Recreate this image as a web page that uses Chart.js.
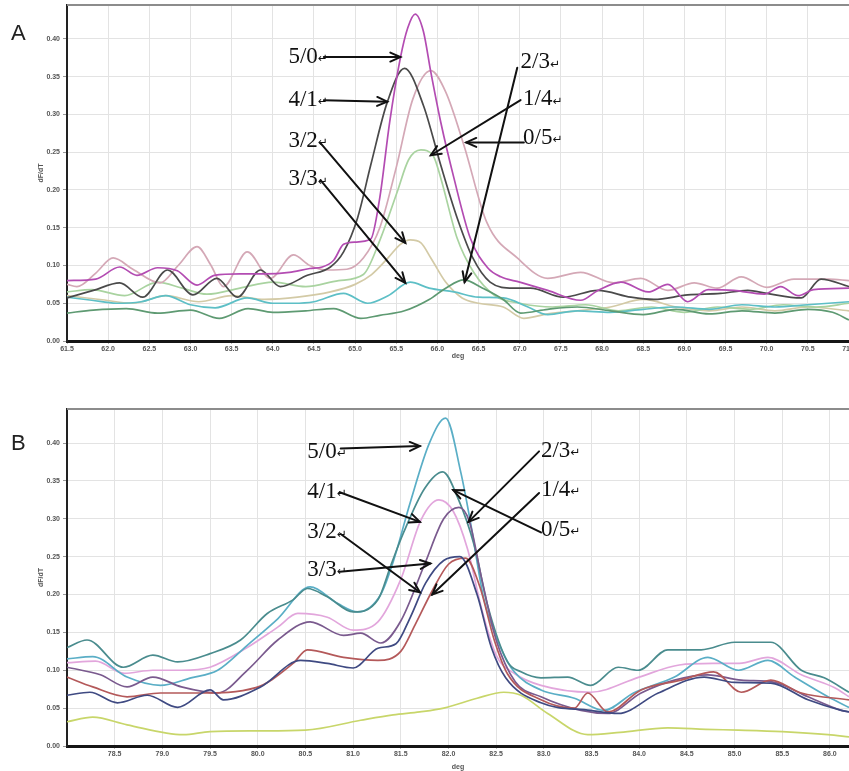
<!DOCTYPE html>
<html><head><meta charset="utf-8">
<script src="https://cdn.jsdelivr.net/npm/chart.js@4.4.0/dist/chart.umd.min.js"></script>
<style>
html,body{margin:0;padding:0;background:#fff;width:849px;height:771px;overflow:hidden}
#wa{position:absolute;left:0;top:0;width:849px;height:375px}
#wb{position:absolute;left:0;top:375px;width:849px;height:396px}
.pl{position:absolute;left:11px;font:22px "Liberation Sans",Arial,sans-serif;color:#222}
</style></head><body>
<div id="wa"><canvas id="ca"></canvas></div>
<div id="wb"><canvas id="cb"></canvas></div>
<div class="pl" style="top:20px">A</div>
<div class="pl" style="top:430px">B</div>
<script>
// ---------- tick labels ----------
const xTicksA = [61.5,62.0,62.5,63.0,63.5,64.0,64.5,65.0,65.5,66.0,66.5,67.0,67.5,68.0,68.5,69.0,69.5,70.0,70.5,71.0];
const xTicksB = [78.5,79.0,79.5,80.0,80.5,81.0,81.5,82.0,82.5,83.0,83.5,84.0,84.5,85.0,85.5,86.0];
const yTicks = [0.00,0.05,0.10,0.15,0.20,0.25,0.30,0.35,0.40];

// ---------- panel A series: [deg, dF/dT] ----------
const a50 = [[61.5,.080],[61.85,.082],[62.14,.098],[62.35,.087],[62.6,.097],[62.84,.093],[63.08,.074],[63.29,.087],[63.6,.089],[63.9,.089],[64.2,.091],[64.45,.096],[64.6,.098],[64.74,.107],[64.86,.128],[65.0,.131],[65.19,.135],[65.3,.19],[65.42,.29],[65.55,.375],[65.64,.415],[65.73,.433],[65.83,.41],[65.92,.356],[66.04,.29],[66.2,.216],[66.4,.136],[66.61,.097],[66.77,.085],[67.0,.078],[67.34,.067],[67.74,.054],[67.95,.067],[68.23,.078],[68.56,.065],[68.8,.075],[69.04,.052],[69.29,.068],[69.6,.067],[69.97,.062],[70.17,.072],[70.38,.060],[70.57,.068],[71.0,.070]];
const a41 = [[61.5,.057],[61.82,.067],[62.14,.077],[62.42,.058],[62.72,.094],[63.03,.061],[63.32,.083],[63.57,.058],[63.85,.094],[64.09,.072],[64.42,.087],[64.7,.098],[64.86,.118],[65.03,.163],[65.19,.233],[65.39,.316],[65.6,.361],[65.83,.312],[66.04,.233],[66.24,.163],[66.43,.110],[66.64,.078],[66.92,.070],[67.13,.070],[67.53,.058],[67.95,.067],[68.35,.058],[68.63,.055],[69.04,.061],[69.44,.063],[69.77,.067],[70.0,.063],[70.42,.057],[70.66,.082],[71.0,.072]];
const a05 = [[61.5,.075],[61.62,.072],[61.85,.090],[62.06,.110],[62.3,.095],[62.63,.077],[62.85,.100],[63.08,.125],[63.25,.100],[63.4,.072],[63.69,.118],[63.97,.083],[64.25,.114],[64.45,.100],[64.66,.094],[64.9,.095],[65.1,.110],[65.3,.150],[65.5,.230],[65.7,.320],[65.92,.358],[66.1,.330],[66.32,.260],[66.6,.157],[66.97,.110],[67.34,.083],[67.74,.091],[68.14,.077],[68.47,.083],[68.8,.067],[69.12,.077],[69.4,.070],[69.69,.085],[70.0,.071],[70.33,.082],[70.75,.082],[71.0,.080]];
const a14 = [[61.5,.065],[61.8,.068],[62.2,.060],[62.6,.078],[62.9,.070],[63.2,.062],[63.6,.070],[64.0,.078],[64.4,.072],[64.8,.080],[65.1,.088],[65.31,.136],[65.51,.197],[65.65,.240],[65.8,.253],[65.95,.245],[66.04,.216],[66.24,.136],[66.44,.091],[66.7,.060],[67.0,.050],[67.4,.045],[67.8,.048],[68.2,.040],[68.6,.045],[69.0,.038],[69.4,.045],[69.8,.042],[70.2,.048],[70.6,.045],[71.0,.050]];
const a32 = [[61.5,.060],[61.9,.055],[62.3,.050],[62.7,.060],[63.1,.052],[63.5,.060],[63.9,.055],[64.3,.058],[64.7,.065],[65.0,.075],[65.2,.088],[65.4,.110],[65.55,.128],[65.67,.134],[65.8,.130],[65.92,.110],[66.1,.078],[66.3,.057],[66.5,.050],[66.8,.045],[67.05,.030],[67.34,.036],[67.7,.040],[68.1,.045],[68.5,.055],[68.9,.045],[69.3,.040],[69.7,.045],[70.1,.040],[70.5,.045],[71.0,.040]];
const a33 = [[61.5,.058],[61.8,.054],[62.1,.050],[62.4,.052],[62.7,.060],[63.0,.048],[63.3,.044],[63.69,.057],[64.0,.050],[64.25,.050],[64.5,.052],[64.86,.063],[65.15,.050],[65.4,.060],[65.67,.078],[65.9,.070],[66.2,.065],[66.5,.058],[66.8,.057],[67.1,.045],[67.34,.035],[67.7,.040],[68.1,.038],[68.5,.042],[68.9,.045],[69.3,.042],[69.7,.048],[70.1,.045],[70.5,.048],[71.0,.052]];
const a23 = [[61.5,.037],[61.82,.041],[62.22,.043],[62.6,.037],[63.0,.041],[63.35,.030],[63.7,.043],[64.0,.038],[64.4,.040],[64.74,.043],[65.07,.030],[65.3,.034],[65.6,.040],[65.9,.055],[66.1,.070],[66.32,.081],[66.55,.070],[66.8,.055],[67.01,.037],[67.34,.042],[67.7,.045],[68.1,.040],[68.5,.035],[68.9,.042],[69.3,.036],[69.7,.040],[70.1,.037],[70.5,.042],[70.8,.038],[71.0,.028]];

// ---------- panel B series ----------
const b50 = [[78.0,.115],[78.27,.118],[78.63,.091],[78.98,.080],[79.3,.090],[79.58,.100],[79.89,.133],[80.21,.168],[80.55,.210],[80.84,.188],[81.05,.177],[81.29,.200],[81.42,.243],[81.6,.322],[81.8,.400],[81.97,.433],[82.13,.361],[82.23,.296],[82.37,.195],[82.55,.129],[82.69,.098],[82.97,.074],[83.32,.063],[83.63,.047],[83.94,.070],[84.37,.091],[84.72,.117],[85.04,.100],[85.35,.113],[85.63,.091],[85.98,.065],[86.2,.051]];
const b05 = [[78.0,.130],[78.21,.140],[78.59,.104],[78.9,.120],[79.16,.111],[79.5,.122],[79.82,.140],[80.1,.175],[80.37,.193],[80.52,.208],[80.73,.197],[81.0,.177],[81.26,.193],[81.4,.240],[81.53,.282],[81.75,.340],[81.94,.362],[82.1,.327],[82.27,.265],[82.41,.186],[82.62,.111],[82.76,.098],[82.97,.090],[83.25,.091],[83.49,.080],[83.78,.104],[83.99,.100],[84.3,.127],[84.65,.127],[85.0,.137],[85.38,.137],[85.7,.100],[85.94,.090],[86.2,.071]];
const b41 = [[78.0,.110],[78.3,.112],[78.6,.096],[78.9,.100],[79.2,.100],[79.5,.104],[79.89,.130],[80.21,.157],[80.42,.175],[80.73,.170],[81.0,.153],[81.26,.164],[81.5,.220],[81.71,.298],[81.9,.325],[82.05,.310],[82.2,.260],[82.35,.180],[82.5,.120],[82.7,.095],[82.97,.080],[83.49,.071],[84.0,.091],[84.42,.107],[84.77,.109],[85.05,.109],[85.35,.117],[85.7,.094],[86.05,.077],[86.2,.065]];
const b23 = [[78.0,.104],[78.35,.094],[78.63,.078],[78.9,.091],[79.2,.078],[79.58,.070],[79.89,.100],[80.21,.140],[80.55,.164],[80.9,.146],[81.08,.149],[81.29,.136],[81.5,.165],[81.75,.240],[81.95,.300],[82.11,.315],[82.22,.296],[82.35,.220],[82.5,.140],[82.7,.085],[82.97,.065],[83.39,.047],[83.67,.043],[84.02,.070],[84.37,.087],[84.72,.094],[85.07,.087],[85.42,.084],[85.77,.065],[86.12,.047],[86.2,.045]];
const b33 = [[78.0,.067],[78.24,.071],[78.53,.057],[78.84,.067],[79.16,.051],[79.5,.074],[79.64,.061],[80.03,.078],[80.45,.113],[80.73,.109],[81.0,.103],[81.26,.129],[81.45,.135],[81.6,.170],[81.76,.215],[81.95,.245],[82.12,.250],[82.3,.200],[82.45,.130],[82.6,.090],[82.97,.057],[83.49,.047],[83.78,.043],[84.2,.070],[84.68,.091],[85.0,.084],[85.38,.083],[85.77,.061],[86.12,.047],[86.2,.045]];
const b32 = [[78.0,.091],[78.27,.078],[78.63,.065],[78.98,.070],[79.4,.070],[79.98,.077],[80.37,.109],[80.52,.127],[80.9,.117],[81.26,.113],[81.5,.125],[81.65,.160],[81.83,.205],[82.0,.240],[82.18,.248],[82.33,.210],[82.48,.140],[82.62,.095],[82.97,.061],[83.32,.050],[83.46,.070],[83.67,.045],[84.02,.074],[84.44,.087],[84.78,.098],[85.07,.071],[85.38,.087],[85.7,.070],[86.2,.061]];
const b14 = [[78.0,.032],[78.27,.038],[78.63,.028],[79.22,.015],[79.5,.019],[80.0,.020],[80.5,.021],[81.08,.034],[81.42,.041],[81.7,.045],[81.95,.050],[82.3,.063],[82.58,.071],[82.76,.067],[83.04,.043],[83.46,.015],[83.8,.018],[84.3,.024],[84.7,.022],[85.04,.021],[85.5,.019],[85.98,.015],[86.2,.012]];

// ---------- annotations (text anchor, arrow start, arrow tip; data units) ----------
const annotA = [
  {t:'5/0', tx:64.19, ty:0.376, sx:64.62, sy:0.376, ex:65.55, ey:0.376},
  {t:'4/1', tx:64.19, ty:0.319, sx:64.62, sy:0.319, ex:65.39, ey:0.317},
  {t:'3/2', tx:64.19, ty:0.265, sx:64.58, sy:0.262, ex:65.61, ey:0.130},
  {t:'3/3', tx:64.19, ty:0.214, sx:64.58, sy:0.213, ex:65.61, ey:0.077},
  {t:'2/3', tx:67.01, ty:0.369, sx:66.97, sy:0.362, ex:66.33, ey:0.078},
  {t:'1/4', tx:67.04, ty:0.320, sx:67.01, sy:0.319, ex:65.92, ey:0.246},
  {t:'0/5', tx:67.04, ty:0.269, sx:67.05, sy:0.263, ex:66.35, ey:0.263}
];
const annotB = [
  {t:'5/0', tx:80.52, ty:0.388, sx:80.87, sy:0.393, ex:81.70, ey:0.396},
  {t:'4/1', tx:80.52, ty:0.335, sx:80.86, sy:0.335, ex:81.70, ey:0.296},
  {t:'3/2', tx:80.52, ty:0.282, sx:80.87, sy:0.280, ex:81.70, ey:0.203},
  {t:'3/3', tx:80.52, ty:0.232, sx:80.86, sy:0.230, ex:81.81, ey:0.241},
  {t:'2/3', tx:82.97, ty:0.390, sx:82.95, sy:0.389, ex:82.21, ey:0.296},
  {t:'1/4', tx:82.97, ty:0.338, sx:82.95, sy:0.334, ex:81.83, ey:0.200},
  {t:'0/5', tx:82.97, ty:0.285, sx:82.97, sy:0.282, ex:82.05, ey:0.338}
];

const seriesA = [
  {name:'5/0', data:a50, color:'#b34cb2'},
  {name:'4/1', data:a41, color:'#4a4a4a'},
  {name:'2/3', data:a23, color:'#5e9a72'},
  {name:'3/3', data:a33, color:'#5dbfc6'},
  {name:'0/5', data:a05, color:'#d4a8b6'},
  {name:'1/4', data:a14, color:'#a9d3a0'},
  {name:'3/2', data:a32, color:'#d3caa6'}
];
const seriesB = [
  {name:'3/3', data:b33, color:'#3f4a82'},
  {name:'3/2', data:b32, color:'#b4595a'},
  {name:'2/3', data:b23, color:'#7a5a8e'},
  {name:'0/5', data:b05, color:'#4a8c8e'},
  {name:'5/0', data:b50, color:'#5aaec6'},
  {name:'4/1', data:b41, color:'#e2a6dc'},
  {name:'1/4', data:b14, color:'#c8d66a'}
];

function drawArrow(ctx, x1, y1, x2, y2){
  ctx.beginPath(); ctx.moveTo(x1,y1); ctx.lineTo(x2,y2); ctx.stroke();
  const ang = Math.atan2(y2-y1, x2-x1), L = 11, w = 0.42;
  ctx.beginPath();
  ctx.moveTo(x2 - L*Math.cos(ang-w), y2 - L*Math.sin(ang-w));
  ctx.lineTo(x2, y2);
  ctx.lineTo(x2 - L*Math.cos(ang+w), y2 - L*Math.sin(ang+w));
  ctx.stroke();
}

const annotPlugin = {
  id:'annot',
  afterDatasetsDraw(chart, args, opts){
    const {ctx, chartArea} = chart, x = chart.scales.x, y = chart.scales.y;
    ctx.save();
    ctx.strokeStyle = '#8c8c8c'; ctx.lineWidth = 2;
    ctx.beginPath(); ctx.moveTo(chartArea.left, chartArea.top); ctx.lineTo(chartArea.right, chartArea.top); ctx.stroke();
    for (const a of opts.items){
      const tx = x.getPixelForValue(a.tx), ty = y.getPixelForValue(a.ty);
      ctx.fillStyle = '#111'; ctx.textBaseline = 'middle'; ctx.textAlign = 'left';
      ctx.font = '23px "Liberation Serif", "Times New Roman", serif';
      ctx.fillText(a.t, tx, ty);
      const w = ctx.measureText(a.t).width;
      ctx.font = '12px "DejaVu Sans", sans-serif';
      ctx.fillText('\u21B5', tx + w, ty + 2);
      ctx.strokeStyle = '#111'; ctx.lineWidth = 2; ctx.lineCap = 'round';
      drawArrow(ctx, x.getPixelForValue(a.sx), y.getPixelForValue(a.sy), x.getPixelForValue(a.ex), y.getPixelForValue(a.ey));
    }
    ctx.restore();
  }
};

function makeChart(id, series, xmin, xmax, xTicks, padTop, xAxisH, titlePadBottom, annots){
  return new Chart(document.getElementById(id), {
    type:'line',
    data:{datasets: series.map(s => ({
      label:s.name,
      data:s.data.map(p => ({x:p[0], y:p[1]})),
      borderColor:s.color, borderWidth:1.7, pointRadius:0, fill:false,
      cubicInterpolationMode:'monotone'
    }))},
    options:{
      responsive:true, maintainAspectRatio:false, animation:false, devicePixelRatio:1,
      layout:{padding:{left:0, right:0, top:padTop, bottom:0}},
      plugins:{legend:{display:false}, tooltip:{enabled:false}, annot:{items:annots}},
      scales:{
        x:{type:'linear', min:xmin, max:xmax,
          afterBuildTicks:s => { s.ticks = xTicks.map(v => ({value:v})); },
          afterFit:s => { s.height = xAxisH; s.paddingLeft = 0; s.paddingRight = 0; },
          grid:{color:'#e3e3e3', lineWidth:1, tickLength:3, tickColor:'#bbb'},
          border:{display:true, color:'#151515', width:3},
          ticks:{maxRotation:0, autoSkip:false, padding:1, color:'#555',
            font:{family:'"Liberation Sans", Arial', size:7, weight:'bold'},
            callback:v => Number(v).toFixed(1)},
          title:{display:true, text:'deg', color:'#555', padding:{top:0,bottom:titlePadBottom},
            font:{family:'"Liberation Sans", Arial', size:7, weight:'bold'}}
        },
        y:{type:'linear', min:0, max:0.445,
          afterBuildTicks:s => { s.ticks = yTicks.map(v => ({value:v})); },
          afterFit:s => { s.width = 67; s.paddingTop = 0; s.paddingBottom = 0; },
          grid:{color:'#e3e3e3', lineWidth:1, tickLength:4, tickColor:'#999'},
          border:{display:true, color:'#222', width:2},
          ticks:{padding:3, color:'#555',
            font:{family:'"Liberation Sans", Arial', size:7, weight:'bold'},
            callback:v => Number(v).toFixed(2)},
          title:{display:true, text:'dF/dT', color:'#555', padding:{top:37,bottom:0},
            font:{family:'"Liberation Sans", Arial', size:7, weight:'bold'}}
        }
      }
    },
    plugins:[annotPlugin]
  });
}

makeChart('ca', seriesA, 61.5, 71.0, xTicksA, 5, 34, 15, annotA);
makeChart('cb', seriesB, 78.0, 86.2, xTicksB, 34, 25, 0, annotB);
</script>
</body></html>
